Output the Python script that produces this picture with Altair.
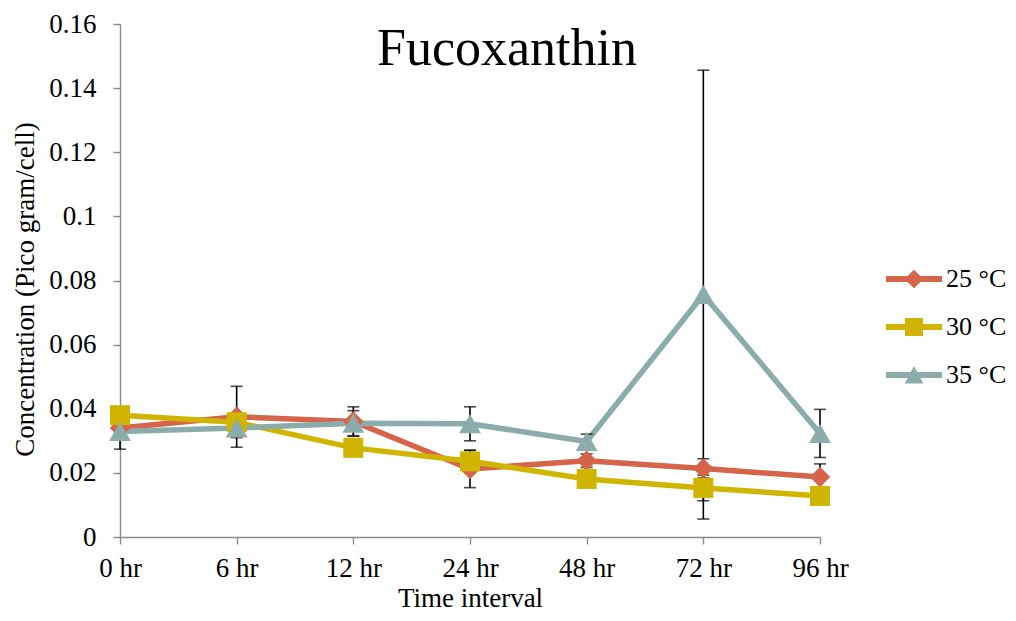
import altair as alt
import pandas as pd

times = ["0 hr", "6 hr", "12 hr", "24 hr", "48 hr", "72 hr", "96 hr"]
series = ["25 °C", "30 °C", "35 °C"]

v25 = [0.0340, 0.0375, 0.0360, 0.0212, 0.0238, 0.0214, 0.0187]
v30 = [0.0380, 0.0358, 0.0278, 0.0236, 0.0181, 0.0153, 0.0128]
v35 = [0.0329, 0.0340, 0.0355, 0.0353, 0.0298, 0.0756, 0.0323]

e25 = [0.0020, 0.0095, 0.0046, 0.0058, 0.0021, 0.0030, 0.0041]
e30 = [0.0010, 0.0020, 0.0010, 0.0035, 0.0010, 0.0040, 0.0010]
e35 = [0.0055, 0.0030, 0.0039, 0.0053, 0.0023, 0.0700, 0.0075]

y_ticks = [0, 0.02, 0.04, 0.06, 0.08, 0.1, 0.12, 0.14, 0.16]
chart_title = "Fucoxanthin"

colors = ["#D5644A", "#CFB500", "#8BACAA"]
shapes = ["diamond", "square", "triangle-up"]
sizes = [420, 400, 480]
legend_paths = [
    "M-1.87,-0.2H1.87V0.2H-1.87Z M0,-0.62L0.62,0L0,0.62L-0.62,0Z",
    "M-1.87,-0.2H1.87V0.2H-1.87Z M-0.6,-0.6H0.6V0.6H-0.6Z",
    "M-1.87,-0.2H1.87V0.2H-1.87Z M0,-0.6L0.62,0.56L-0.62,0.56Z",
]

rows = []
for s, vals, errs in zip(series, [v25, v30, v35], [e25, e30, e35]):
    for t, v, e in zip(times, vals, errs):
        rows.append({"time": t, "series": s, "value": v, "err": e})
df = pd.DataFrame(rows)

FONT = "Liberation Serif"

x_enc = alt.X(
    "time:N",
    sort=times,
    scale=alt.Scale(type="point", padding=0, domain=times),
    axis=alt.Axis(
        title="Time interval",
        labelAngle=0,
        labelPadding=11,
        titleX=350,
        titleY=69,
        titleBaseline="alphabetic",
        titleAlign="center",
    ),
)
y_scale = alt.Scale(domain=[0, 0.16], nice=False)
y_enc = alt.Y(
    "value:Q",
    scale=y_scale,
    axis=alt.Axis(
        title="Concentration (Pico gram/cell)",
        values=y_ticks,
        labelExpr="format(datum.value, '.2~f')",
        labelPadding=17,
        titleX=-87,
        titleY=265,
        titleBaseline="alphabetic",
        titleAlign="center",
    ),
)

base = alt.Chart(df)

line_layers = []
point_layers = []
for s, c, sh, sz in zip(series, colors, shapes, sizes):
    sub = base.transform_filter(alt.datum.series == s)
    line_layers.append(
        sub.mark_line(color=c, strokeWidth=5.5).encode(x=x_enc, y=y_enc)
    )
    point_layers.append(
        sub.mark_point(shape=sh, filled=True, color=c, size=sz, opacity=1).encode(
            x=x_enc, y=y_enc
        )
    )

err_base = base.transform_calculate(
    lo="datum.value - datum.err", hi="datum.value + datum.err"
)
err_rule = err_base.mark_rule(color="black", strokeWidth=1.6).encode(
    x=x_enc, y=alt.Y("lo:Q", scale=y_scale), y2="hi:Q"
)
cap_lo = err_base.mark_tick(color="black", thickness=1.6, size=12).encode(
    x=x_enc, y=alt.Y("lo:Q", scale=y_scale)
)
cap_hi = err_base.mark_tick(color="black", thickness=1.6, size=12).encode(
    x=x_enc, y=alt.Y("hi:Q", scale=y_scale)
)

title_layer = (
    alt.Chart(pd.DataFrame({"t": [chart_title]}))
    .mark_text(
        font=FONT, fontSize=52, color="black", align="center", baseline="alphabetic"
    )
    .encode(text="t:N", x=alt.value(387), y=alt.value(41))
)

legend_layer = (
    base.transform_filter("false")
    .mark_point(filled=True, opacity=1)
    .encode(
        x=x_enc,
        y=y_enc,
        color=alt.Color(
            "series:N",
            scale=alt.Scale(domain=series, range=colors),
            legend=alt.Legend(
                title=None,
                orient="none",
                legendX=779,
                legendY=240,
                symbolSize=900,
                symbolStrokeWidth=0,
                labelOffset=17,
                labelFontSize=26,
                labelFont=FONT,
                labelColor="black",
                rowPadding=20,
            ),
        ),
        shape=alt.Shape(
            "series:N", scale=alt.Scale(domain=series, range=legend_paths)
        ),
    )
)

chart = (
    alt.layer(
        *line_layers, err_rule, cap_lo, cap_hi, *point_layers, legend_layer, title_layer
    )
    .properties(
        width=700,
        height=513,
        autosize=alt.AutoSizeParams(type="none"),
        padding={"left": 112, "top": 16, "right": 188, "bottom": 76},
    )
    .configure_view(stroke=None)
    .configure_legend(labelFont=FONT, labelFontSize=26, labelColor="black")
    .configure_axis(
        grid=False,
        domainColor="#898989",
        domainWidth=1.4,
        tickColor="#898989",
        tickWidth=1.4,
        tickSize=7,
        labelFont=FONT,
        labelFontSize=27,
        labelColor="black",
        titleFont=FONT,
        titleFontSize=27,
        titleFontWeight="normal",
        titleColor="black",
    )
)

chart.save("out.html", embed_options={"renderer": "svg", "actions": False})
